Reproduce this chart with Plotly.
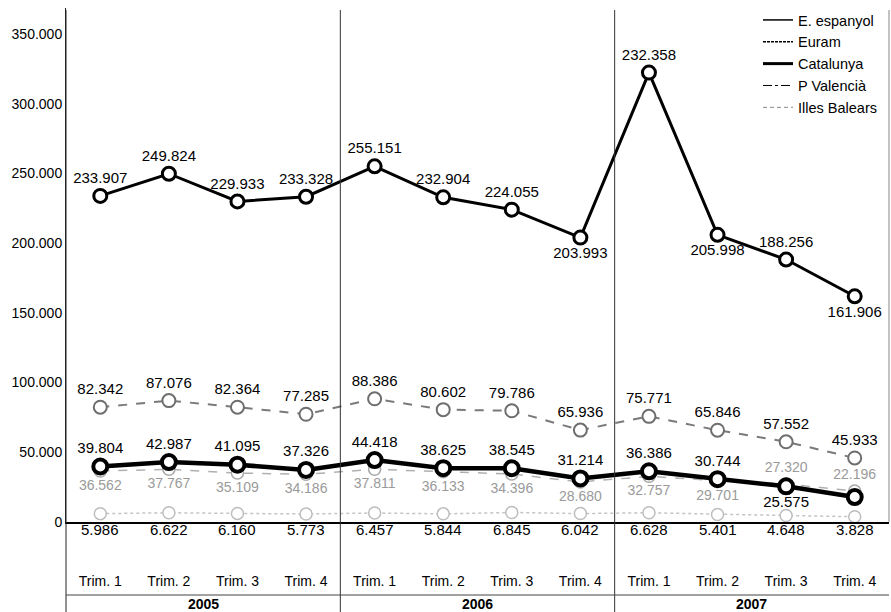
import plotly.graph_objects as go

# ---------------- data ----------------
quarters = ["Trim. 1", "Trim. 2", "Trim. 3", "Trim. 4"] * 3
years = ["2005", "2006", "2007"]

espanyol = [233907, 249824, 229933, 233328, 255151, 232904, 224055, 203993,
            322358, 205998, 188256, 161906]
euram = [82342, 87076, 82364, 77285, 88386, 80602, 79786, 65936,
         75771, 65846, 57552, 45933]
catalunya = [39804, 42987, 41095, 37326, 44418, 38625, 38545, 31214,
             36386, 30744, 25575, 17900]
valencia = [36562, 37767, 35109, 34186, 37811, 36133, 34396, 28680,
            32757, 29701, 27320, 22196]
balears = [5986, 6622, 6160, 5773, 6457, 5844, 6845, 6042,
           6628, 5401, 4648, 3828]

# printed labels (the source prints "232.358" for 2007 Trim. 1)
def fmt(v):
    return f"{v:,}".replace(",", ".")

espanyol_text = [fmt(v) for v in espanyol]
espanyol_text[8] = "232.358"
euram_text = [fmt(v) for v in euram]
catalunya_text = [fmt(v) for v in catalunya]
catalunya_text[11] = ""
valencia_text = [fmt(v) for v in valencia]
balears_text = [fmt(v) for v in balears]

espanyol_pos = ["top center"] * 7 + ["bottom center", "top center", "bottom center",
                                     "top center", "bottom center"]
euram_pos = ["top center"] * 12
catalunya_pos = ["top center"] * 10 + ["bottom center", "top center"]
valencia_pos = ["bottom center"] * 10 + ["top center", "top center"]

x = list(range(len(quarters)))

# ---------------- layout geometry ----------------
W, H = 891, 612
ML, MR, MT, MB = 66, 2, 8, 90
PH = H - MT - MB


def py(pix):
    """pixel row -> paper y"""
    return (H - MB - pix) / PH


FONT = "Liberation Sans, Arial, sans-serif"

fig = go.Figure()

# main traces (drawn bottom to top)
fig.add_trace(go.Scatter(
    x=x, y=balears, mode="lines+markers", showlegend=False,
    line=dict(color="#c4c4c4", width=1.5, dash="dot"),
    marker=dict(size=12, color="white", line=dict(color="#bdbdbd", width=1.5)),
    hoverinfo="skip"))
fig.add_trace(go.Scatter(
    x=x, y=valencia, mode="lines+markers+text", showlegend=False,
    text=valencia_text, textposition=valencia_pos,
    textfont=dict(family=FONT, size=14, color="#9a9a9a"),
    line=dict(color="#b0b0b0", width=1.5, dash="dash"),
    marker=dict(size=12, color="white", line=dict(color="#a8a8a8", width=1.5)),
    cliponaxis=False, hoverinfo="skip"))
fig.add_trace(go.Scatter(
    x=x, y=euram, mode="lines+markers+text", showlegend=False,
    text=euram_text, textposition=euram_pos,
    textfont=dict(family=FONT, size=15, color="black"),
    line=dict(color="#7a7a7a", width=2, dash="dash"),
    marker=dict(size=13, color="white", line=dict(color="#6e6e6e", width=2)),
    cliponaxis=False, hoverinfo="skip"))
fig.add_trace(go.Scatter(
    x=x, y=catalunya, mode="lines+markers+text", showlegend=False,
    text=catalunya_text, textposition=catalunya_pos,
    textfont=dict(family=FONT, size=15, color="black"),
    line=dict(color="black", width=4.5),
    marker=dict(size=14, color="white", line=dict(color="black", width=4)),
    cliponaxis=False, hoverinfo="skip"))
fig.add_trace(go.Scatter(
    x=x, y=espanyol, mode="lines+markers+text", showlegend=False,
    text=espanyol_text, textposition=espanyol_pos,
    textfont=dict(family=FONT, size=15, color="black"),
    line=dict(color="black", width=3),
    marker=dict(size=13, color="white", line=dict(color="black", width=3)),
    cliponaxis=False, hoverinfo="skip"))

# legend entries (line samples only)
legend_items = [
    ("E. espanyol", dict(color="black", width=1.5)),
    ("Euram", dict(color="black", width=1.5, dash="3px,1px")),
    ("Catalunya", dict(color="black", width=3)),
    ("P Valencià", dict(color="black", width=1, dash="dashdot")),
    ("Illes Balears", dict(color="#888", width=1, dash="4px,3px")),
]
for name, ln in legend_items:
    fig.add_trace(go.Scatter(x=[None], y=[None], mode="lines", name=name, line=ln))

# Illes Balears values printed beneath the zero line
annotations = []
for xi, t in zip(x, balears_text):
    annotations.append(dict(x=xi, y=py(540), xref="x", yref="paper", text=t,
                            showarrow=False, font=dict(family=FONT, size=15, color="black")))
for i, yr in enumerate(years):
    annotations.append(dict(x=4 * i + 1.5, y=py(604), xref="x", yref="paper",
                            text=f"<b>{yr}</b>", showarrow=False, yanchor="middle",
                            font=dict(family=FONT, size=14, color="black")))

shapes = []
# year dividers
for xv in [3.5, 7.5]:
    shapes.append(dict(type="line", xref="x", yref="paper", x0=xv, x1=xv,
                       y0=py(H), y1=py(10), line=dict(color="#333", width=1)))
# left axis extension
shapes.append(dict(type="line", xref="paper", yref="paper", x0=0, x1=0,
                   y0=py(H), y1=py(10), line=dict(color="#222", width=1)))
# right border
shapes.append(dict(type="line", xref="paper", yref="paper", x0=1, x1=1,
                   y0=0, y1=py(10), line=dict(color="#888", width=1)))
# separator between quarter and year rows
shapes.append(dict(type="line", xref="paper", yref="paper", x0=0, x1=1,
                   y0=py(595), y1=py(595), line=dict(color="#444", width=1)))

fig.update_layout(
    width=W, height=H,
    margin=dict(l=ML, r=MR, t=MT, b=MB),
    paper_bgcolor="white", plot_bgcolor="white",
    separators=",.",
    font=dict(family=FONT, color="black"),
    xaxis=dict(range=[-0.5, 11.5], tickmode="array", tickvals=x, ticktext=quarters,
               showgrid=False, zeroline=False, showline=True, linecolor="black",
               linewidth=1.5, ticks="", ticklabelstandoff=45,
               tickfont=dict(family=FONT, size=14, color="black")),
    yaxis=dict(range=[0, 368700], tickvals=[0, 50000, 100000, 150000, 200000, 250000,
                                            300000, 350000],
               tickformat=",", showgrid=False, zeroline=False, showline=True,
               linecolor="#222", linewidth=1, ticks="",
               tickfont=dict(family=FONT, size=14, color="black")),
    legend=dict(x=(758 - ML) / (W - ML - MR), y=py(4), xanchor="left", yanchor="top",
                bgcolor="rgba(0,0,0,0)", font=dict(family=FONT, size=14.5, color="black"),
                tracegroupgap=0, itemwidth=30),
    annotations=annotations,
    shapes=shapes,
)

fig.write_html("out.html")
